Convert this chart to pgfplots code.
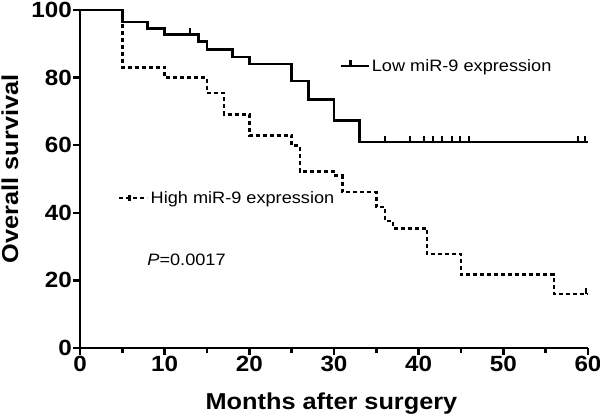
\documentclass[border=0pt]{standalone}
\usepackage{pgfplots}
\pgfplotsset{compat=1.18}
\usepackage{fontspec}
\setmainfont{Liberation Sans}[FakeStretch=1.1]
\pgfdeclareplotmark{cup}{\pgfpathmoveto{\pgfqpoint{0pt}{0pt}}\pgfpathlineto{\pgfqpoint{0pt}{\pgfplotmarksize}}\pgfusepathqstroke}
\pgfplotsset{
  kmbase/.style={
    at={(0,0)}, anchor=south west,
    scale only axis, width=508bp, height=338bp,
    xmin=0, xmax=60, ymin=0, ymax=100,
  },
}
\begin{document}
\begin{tikzpicture}
\useasboundingbox (-80bp,-69bp) rectangle (520bp,348bp);
\begin{axis}[kmbase,
  axis lines=left,
  axis line style={line width=2.6bp,-},
  xtick={0,10,...,60}, minor xtick={5,15,...,55},
  ytick={0,20,...,100},
  tick align=outside,
  major tick length=7bp, minor tick length=5bp,
  every tick/.style={black, line width=2.4bp},
  /pgf/number format/assume math mode=true,
  ticklabel style={font=\bfseries\fontsize{22bp}{24bp}\selectfont, inner sep=1bp},
  xlabel={Months after surgery}, ylabel={Overall survival},
  label style={font=\bfseries\fontsize{23bp}{26bp}\selectfont},
  xlabel style={at={(axis description cs:0.495,-0.181)}, anchor=base},
  ylabel style={at={(axis description cs:-0.122,0.53)}, anchor=base},
  legend style={draw=none, fill=none, at={(axis description cs:0.510,0.834)}, anchor=west,
    font=\fontsize{16.5bp}{19bp}\selectfont, inner sep=0pt},
  clip=false,
]
\addplot[const plot, line width=2.6bp, black,
  legend image code/.code={
    \path (0bp,0bp) -- (28bp,0bp);
    \draw[line width=2.4bp] (0bp,0bp) -- (20bp,0bp);
    \draw[line width=2.4bp] (10bp,0bp) -- (10bp,6bp);}]
  coordinates {(0,100) (5,96.5) (8,94.6) (10,92.8) (14,90.6) (15,88.3) (18,86.1) (20,84.0) (25,79.0) (27,73.5) (30,67.3) (33,60.9) (60,60.9)};
\addlegendentry{Low miR-9 expression}
\addplot[only marks, mark=cup, mark size=6bp, line width=2bp, black, forget plot]
  coordinates {(13,92.8) (36,60.9) (39,60.9) (40.6,60.9) (41.7,60.9) (42.8,60.9) (43.9,60.9) (44.9,60.9) (45.9,60.9) (58.8,60.9) (59.7,60.9)};
\node[anchor=west, font=\fontsize{16.5bp}{19bp}\selectfont] at (axis cs:7.55,26) {\textit{P}=0.0017};
\end{axis}
\begin{axis}[kmbase, hide axis,
  legend style={draw=none, fill=none, at={(axis description cs:0.075,0.444)}, anchor=west,
    font=\fontsize{16.5bp}{19bp}\selectfont, inner sep=0pt},
  clip=false,
]
\addplot[const plot, line width=2.4bp, black, dash pattern=on 4bp off 3bp,
  legend image code/.code={
    \path (0bp,0bp) -- (28bp,0bp);
    \draw[line width=2.4bp, dash pattern=on 4bp off 3bp] (0bp,0bp) -- (22bp,0bp);
    \draw[line width=2.2bp, solid] (10bp,-3bp) -- (10bp,3bp);}]
  coordinates {(0,100) (5,83.0) (10,80.0) (15,75.5) (17,69.1) (20,62.9) (25,59.9) (26,52.2) (30,51.0) (31,46.2) (35,41.8) (36,37.6) (37,35.4) (41,27.8) (45,21.7) (56,15.9) (60,15.9)};
\addlegendentry{High miR-9 expression}
\addplot[only marks, mark=cup, mark size=6bp, line width=2bp, black, forget plot]
  coordinates {(59.8,15.9)};
\end{axis}
\end{tikzpicture}
\end{document}
